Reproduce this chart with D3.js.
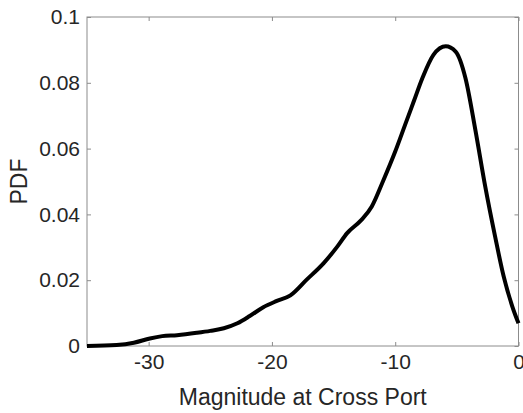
<!DOCTYPE html>
<html><head><meta charset="utf-8">
<script src="https://cdn.jsdelivr.net/npm/d3@7"></script>
<style>body{margin:0;background:#fff}svg{display:block}</style>
</head><body>
<svg id="c" width="523" height="413"></svg>
<script>
const xValues = [-35,-32.6,-31.2,-29.9,-28.9,-27.7,-26.1,-25.0,-23.9,-22.8,-21.8,-20.7,-19.6,-18.5,-17.2,-15.8,-14.7,-13.9,-12.8,-11.9,-11.0,-10.0,-9.2,-8.5,-7.8,-6.9,-5.9,-5.1,-4.3,-3.5,-2.7,-1.9,-1.2,-0.5,0];
const pdfValues = [0,0.0003,0.001,0.0023,0.003,0.0033,0.004,0.0046,0.0054,0.0069,0.0091,0.0118,0.0137,0.0154,0.0201,0.0252,0.0302,0.0343,0.0381,0.0424,0.05,0.0591,0.0672,0.0743,0.0814,0.0885,0.0911,0.0895,0.0814,0.0657,0.0485,0.0333,0.0211,0.012,0.0069];
const xTicks = [-30,-20,-10,0];
const yTicks = [0,0.02,0.04,0.06,0.08,0.1];
const xLabel = "Magnitude at Cross Port";
const yLabel = "PDF";

const L=87, R=518.5, T=17, B=346;
const svg=d3.select("#c");
const x=d3.scaleLinear().domain([-35,0]).range([L,R]);
const y=d3.scaleLinear().domain([0,0.1]).range([B,T]);
const axisCol="#8c8c8c", textCol="#262626";
const font="'Liberation Sans', Arial, sans-serif";

// box
svg.append("rect").attr("x",L).attr("y",T).attr("width",R-L).attr("height",B-T)
  .attr("fill","none").attr("stroke",axisCol).attr("stroke-width",1);

function styleAxis(g){
  g.select(".domain").remove();
  g.selectAll(".tick line").attr("stroke",axisCol);
  g.selectAll(".tick text").attr("fill",textCol).style("font-family",font).style("font-size","21px");
}
const fmt=d=>d===0?"0":String(d);
svg.append("g").attr("transform",`translate(0,${B})`)
  .call(d3.axisBottom(x).tickValues(xTicks).tickSize(-4).tickPadding(8).tickFormat(fmt)).call(styleAxis);
svg.append("g").attr("transform",`translate(0,${T})`)
  .call(d3.axisTop(x).tickValues(xTicks).tickSize(-4).tickFormat("")).call(styleAxis);
svg.append("g").attr("transform",`translate(${L},0)`)
  .call(d3.axisLeft(y).tickValues(yTicks).tickSize(-4).tickPadding(7).tickFormat(fmt)).call(styleAxis);
svg.append("g").attr("transform",`translate(${R},0)`)
  .call(d3.axisRight(y).tickValues(yTicks).tickSize(-4).tickFormat("")).call(styleAxis);

svg.append("text").attr("x",(L+R)/2).attr("y",405).attr("text-anchor","middle")
  .attr("fill",textCol).style("font-family",font).style("font-size","23px").text(xLabel);
svg.append("text").attr("transform",`translate(27,${(T+B)/2}) rotate(-90)`).attr("text-anchor","middle")
  .attr("fill",textCol).style("font-family",font).style("font-size","23px").text(yLabel);

const pts=xValues.map((v,i)=>[v,pdfValues[i]]);
svg.append("path").datum(pts).attr("fill","none").attr("stroke","#000").attr("stroke-width",4)
  .attr("stroke-linejoin","round")
  .attr("d",d3.line().x(d=>x(d[0])).y(d=>y(d[1])).curve(d3.curveMonotoneX));
</script>
</body></html>
